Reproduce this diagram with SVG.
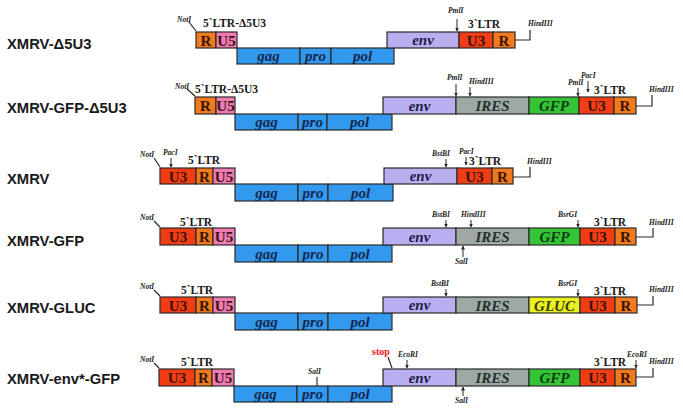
<svg xmlns="http://www.w3.org/2000/svg" width="683" height="410" viewBox="0 0 683 410">
<style>
rect{stroke:#2a2a2a;stroke-width:1.2}
.u3{fill:#f23d14}.r{fill:#f07a1c}.u5{fill:#f07ab4}.bl{fill:#3399ee}.env{fill:#b8aef0}.ires{fill:#9ea9a3}.gfp{fill:#35c435}.gluc{fill:#e8f020}
.bt{font-family:"Liberation Serif",serif;font-weight:bold;font-size:15px;text-anchor:middle;fill:#3a1408}
.it{font-family:"Liberation Serif",serif;font-weight:bold;font-style:italic;font-size:15px;text-anchor:middle}
.bi{fill:#142850}.ei{fill:#1c1c4a}.ii{fill:#263030}.gi{fill:#0e3a0e}.yi{fill:#3a3a06}
.ltr{font-family:"Liberation Serif",serif;font-weight:bold;font-size:11.5px;fill:#1a1a1a}
.enz{font-family:"Liberation Serif",serif;font-weight:bold;font-style:italic;font-size:7.5px;fill:#1a1a1a}
.stop{font-family:"Liberation Serif",serif;font-weight:bold;font-size:10px;fill:#e8141e}
.lbl{font-family:"Liberation Sans",Arial,sans-serif;font-weight:bold;font-size:14.8px;fill:#1a1a1a}
.ln{stroke:#2a2a2a;stroke-width:1.2;fill:none}
.ar{stroke:#2a2a2a;stroke-width:1;fill:none;marker-end:url(#ah)}
</style>
<defs>
<marker id="ah" markerWidth="4" markerHeight="4" refX="3.5" refY="2" orient="auto" markerUnits="userSpaceOnUse"><path d="M0,0 L4,2 L0,4 z" fill="#2a2a2a"/></marker>
</defs>

<g id="row1">
<text class="lbl" x="7" y="49">XMRV-Δ5U3</text>
<text class="enz" x="177" y="22">NotI</text>
<text class="ltr" x="203" y="27">5`LTR-Δ5U3</text>
<rect class="r" x="196" y="32" width="20" height="16"/><text class="bt" x="206" y="45.5">R</text>
<rect class="u5" x="216" y="32" width="21" height="16"/><text class="bt" x="226.5" y="45.5">U5</text>
<rect class="bl" x="237" y="48" width="63" height="16"/><text class="it bi" x="268.5" y="61">gag</text>
<rect class="bl" x="300" y="48" width="31" height="16"/><text class="it bi" x="315.5" y="61">pro</text>
<rect class="bl" x="331" y="48" width="63" height="16"/><text class="it bi" x="362.5" y="61">pol</text>
<rect class="env" x="387" y="32" width="72" height="16"/><text class="it ei" x="423" y="45">env</text>
<rect class="u3" x="459" y="32" width="34" height="16"/><text class="bt" x="476" y="45.5">U3</text>
<rect class="r" x="493" y="32" width="22" height="16"/><text class="bt" x="504" y="45.5">R</text>
<text class="enz" x="448" y="13">PmlI</text>
<text class="ltr" x="468" y="28">3`LTR</text>
<text class="enz" x="528" y="26">HindIII</text>
</g>

<g id="row2">
<text class="lbl" x="7" y="113">XMRV-GFP-Δ5U3</text>
<text class="enz" x="175" y="89">NotI</text>
<text class="ltr" x="195" y="93">5`LTR-Δ5U3</text>
<rect class="r" x="195" y="97" width="21" height="17"/><text class="bt" x="205.5" y="111">R</text>
<rect class="u5" x="216" y="97" width="19" height="17"/><text class="bt" x="225.5" y="111">U5</text>
<rect class="bl" x="235" y="114" width="63" height="16"/><text class="it bi" x="266.5" y="127">gag</text>
<rect class="bl" x="298" y="114" width="29" height="16"/><text class="it bi" x="312.5" y="127">pro</text>
<rect class="bl" x="327" y="114" width="65" height="16"/><text class="it bi" x="359.5" y="127">pol</text>
<rect class="env" x="383" y="97" width="73" height="17"/><text class="it ei" x="419.5" y="110.5">env</text>
<rect class="ires" x="456" y="97" width="73" height="17"/><text class="it ii" x="492.5" y="111">IRES</text>
<rect class="gfp" x="529" y="97" width="50" height="17"/><text class="it gi" x="554" y="111">GFP</text>
<rect class="u3" x="579" y="97" width="35" height="17"/><text class="bt" x="596.5" y="111">U3</text>
<rect class="r" x="614" y="97" width="22" height="17"/><text class="bt" x="625" y="111">R</text>
<text class="enz" x="447" y="80">PmlI</text>
<text class="enz" x="469" y="84">HindIII</text>
<text class="enz" x="568" y="85">PmlI</text>
<text class="enz" x="581" y="78">PacI</text>
<text class="ltr" x="594" y="94">3`LTR</text>
<text class="enz" x="649" y="92">HindIII</text>
</g>

<g id="row3">
<text class="lbl" x="7" y="184">XMRV</text>
<text class="enz" x="140" y="157">NotI</text>
<text class="enz" x="163" y="155">PacI</text>
<text class="ltr" x="188" y="164">5`LTR</text>
<rect class="u3" x="160" y="168" width="36" height="16"/><text class="bt" x="178" y="181.5">U3</text>
<rect class="r" x="196" y="168" width="17" height="16"/><text class="bt" x="204.5" y="181.5">R</text>
<rect class="u5" x="213" y="168" width="22" height="16"/><text class="bt" x="224" y="181.5">U5</text>
<rect class="bl" x="235" y="184" width="63" height="17"/><text class="it bi" x="266.5" y="197.5">gag</text>
<rect class="bl" x="298" y="184" width="30" height="17"/><text class="it bi" x="313" y="197.5">pro</text>
<rect class="bl" x="328" y="184" width="65" height="17"/><text class="it bi" x="360.5" y="197.5">pol</text>
<rect class="env" x="384" y="168" width="73" height="16"/><text class="it ei" x="420.5" y="181">env</text>
<rect class="u3" x="457" y="168" width="35" height="16"/><text class="bt" x="474.5" y="181.5">U3</text>
<rect class="r" x="492" y="168" width="21" height="16"/><text class="bt" x="502.5" y="181.5">R</text>
<text class="enz" x="432" y="156">BstBI</text>
<text class="enz" x="459" y="154">PacI</text>
<text class="ltr" x="469" y="165">3`LTR</text>
<text class="enz" x="527" y="164">HindIII</text>
</g>

<g id="row4">
<text class="lbl" x="7" y="246">XMRV-GFP</text>
<text class="enz" x="140" y="220">NotI</text>
<text class="ltr" x="180" y="226">5`LTR</text>
<rect class="u3" x="160" y="228" width="36" height="17"/><text class="bt" x="178" y="242">U3</text>
<rect class="r" x="196" y="228" width="17" height="17"/><text class="bt" x="204.5" y="242">R</text>
<rect class="u5" x="213" y="228" width="22" height="17"/><text class="bt" x="224" y="242">U5</text>
<rect class="bl" x="235" y="245" width="63" height="17"/><text class="it bi" x="266.5" y="258.5">gag</text>
<rect class="bl" x="298" y="245" width="30" height="17"/><text class="it bi" x="313" y="258.5">pro</text>
<rect class="bl" x="328" y="245" width="64" height="17"/><text class="it bi" x="360" y="258.5">pol</text>
<rect class="env" x="383" y="228" width="73" height="17"/><text class="it ei" x="419.5" y="241.5">env</text>
<rect class="ires" x="456" y="228" width="73" height="17"/><text class="it ii" x="492.5" y="242">IRES</text>
<rect class="gfp" x="529" y="228" width="51" height="17"/><text class="it gi" x="554.5" y="242">GFP</text>
<rect class="u3" x="580" y="228" width="35" height="17"/><text class="bt" x="597.5" y="242">U3</text>
<rect class="r" x="615" y="228" width="21" height="17"/><text class="bt" x="625.5" y="242">R</text>
<text class="enz" x="432" y="217">BstBI</text>
<text class="enz" x="461" y="217">HindIII</text>
<text class="enz" x="558" y="217">BsrGI</text>
<text class="ltr" x="594" y="226">3`LTR</text>
<text class="enz" x="649" y="225">HindIII</text>
<text class="enz" x="455" y="264">SalI</text>
</g>

<g id="row5">
<text class="lbl" x="7" y="313">XMRV-GLUC</text>
<text class="enz" x="140" y="289">NotI</text>
<text class="ltr" x="181" y="294">5`LTR</text>
<rect class="u3" x="160" y="297" width="36" height="16"/><text class="bt" x="178" y="310.5">U3</text>
<rect class="r" x="196" y="297" width="17" height="16"/><text class="bt" x="204.5" y="310.5">R</text>
<rect class="u5" x="213" y="297" width="22" height="16"/><text class="bt" x="224" y="310.5">U5</text>
<rect class="bl" x="235" y="313" width="63" height="17"/><text class="it bi" x="266.5" y="326.5">gag</text>
<rect class="bl" x="298" y="313" width="30" height="17"/><text class="it bi" x="313" y="326.5">pro</text>
<rect class="bl" x="328" y="313" width="64" height="17"/><text class="it bi" x="360" y="326.5">pol</text>
<rect class="env" x="383" y="297" width="73" height="16"/><text class="it ei" x="419.5" y="310">env</text>
<rect class="ires" x="456" y="297" width="73" height="16"/><text class="it ii" x="492.5" y="310.5">IRES</text>
<rect class="gluc" x="529" y="297" width="51" height="16"/><text class="it yi" x="554.5" y="310.5">GLUC</text>
<rect class="u3" x="580" y="297" width="35" height="16"/><text class="bt" x="597.5" y="310.5">U3</text>
<rect class="r" x="615" y="297" width="22" height="16"/><text class="bt" x="626" y="310.5">R</text>
<text class="enz" x="431" y="286">BstBI</text>
<text class="enz" x="558" y="286">BsrGI</text>
<text class="ltr" x="594" y="295">3`LTR</text>
<text class="enz" x="649" y="292">HindIII</text>
</g>

<g id="row6">
<text class="lbl" x="7" y="384">XMRV-env*-GFP</text>
<text class="enz" x="140" y="362">NotI</text>
<text class="ltr" x="181" y="366">5`LTR</text>
<rect class="u3" x="159" y="369" width="36" height="17"/><text class="bt" x="177" y="383">U3</text>
<rect class="r" x="195" y="369" width="17" height="17"/><text class="bt" x="203.5" y="383">R</text>
<rect class="u5" x="212" y="369" width="22" height="17"/><text class="bt" x="223" y="383">U5</text>
<rect class="bl" x="234" y="386" width="63" height="16"/><text class="it bi" x="265.5" y="399">gag</text>
<rect class="bl" x="297" y="386" width="31" height="16"/><text class="it bi" x="312.5" y="399">pro</text>
<rect class="bl" x="328" y="386" width="64" height="16"/><text class="it bi" x="360" y="399">pol</text>
<text class="enz" x="308" y="374">SalI</text>
<rect class="env" x="383" y="369" width="73" height="17"/><text class="it ei" x="419.5" y="382.5">env</text>
<rect class="ires" x="456" y="369" width="73" height="17"/><text class="it ii" x="492.5" y="383">IRES</text>
<rect class="gfp" x="529" y="369" width="51" height="17"/><text class="it gi" x="554.5" y="383">GFP</text>
<rect class="u3" x="580" y="369" width="35" height="17"/><text class="bt" x="597.5" y="383">U3</text>
<rect class="r" x="615" y="369" width="21" height="17"/><text class="bt" x="625.5" y="383">R</text>
<text class="stop" x="372" y="355">stop</text>
<text class="enz" x="398" y="357">EcoRI</text>
<text class="ltr" x="594" y="366">3`LTR</text>
<text class="enz" x="627" y="357">EcoRI</text>
<text class="enz" x="649" y="364">HindIII</text>
<text class="enz" x="455" y="403">SalI</text>
</g>

<g id="connectors">
<path class="ln" d="M189,22 L196,31"/>
<path class="ln" d="M187,89 L195,96"/>
<path class="ln" d="M154,158 L160,167"/>
<path class="ln" d="M154,221 L160,227"/>
<path class="ln" d="M154,290 L160,296"/>
<path class="ln" d="M154,363 L159,368"/>
<path class="ln" d="M388,357 L392,368"/>
<path class="ln" d="M317,377 V386"/>
<path class="ln" d="M515,40 H530 V30"/>
<path class="ln" d="M636,106 H652 V95"/>
<path class="ln" d="M513,177 H530 V167"/>
<path class="ln" d="M636,237 H653 V228"/>
<path class="ln" d="M637,305 H653 V296"/>
<path class="ln" d="M636,377 H653 V368"/>
<path class="ar" d="M457,19 V31"/>
<path class="ar" d="M456,84 V96"/>
<path class="ar" d="M470,87 V96"/>
<path class="ar" d="M578,88 V96"/>
<path class="ar" d="M588,81 V92"/>
<path class="ar" d="M171,158 V167"/>
<path class="ar" d="M446,159 V167"/>
<path class="ar" d="M466,157 V165"/>
<path class="ar" d="M446,220 V227"/>
<path class="ar" d="M471,220 V227"/>
<path class="ar" d="M578,220 V227"/>
<path class="ar" d="M463,257 V246"/>
<path class="ar" d="M446,289 V296"/>
<path class="ar" d="M578,289 V296"/>
<path class="ar" d="M407,360 V368"/>
<path class="ar" d="M636,360 V368"/>
<path class="ar" d="M463,396 V387"/>
</g>
</svg>
